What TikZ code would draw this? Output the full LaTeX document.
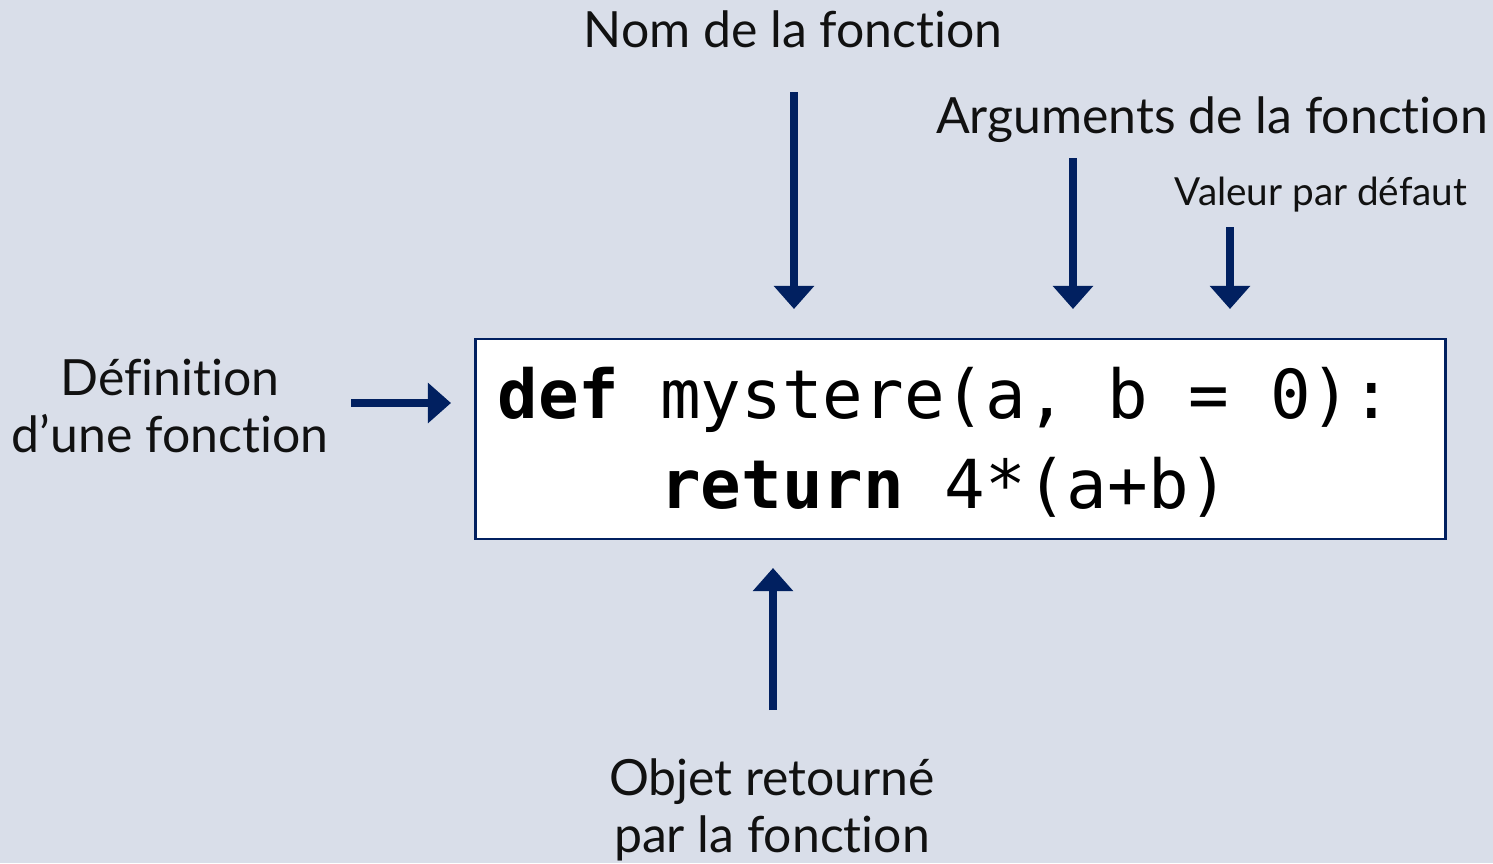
\documentclass[tikz,border=0pt]{standalone}
\usepackage{fontspec}
\setmainfont{Lato}[Ligatures={NoCommon}]
\setmonofont{DejaVu Sans Mono}
\usepackage{xcolor}
\usetikzlibrary{arrows.meta,positioning}
\definecolor{FctBack}{HTML}{D9DEE9}
\definecolor{FctNavy}{HTML}{012060}
\definecolor{FctInk}{HTML}{111111}

\begin{document}
\begin{tikzpicture}[x=0.01cm,y=-0.01cm,
  label/.style={text=FctInk,inner sep=0pt,font=\fontsize{14.2}{16.2}\selectfont},
  smalllabel/.style={label,font=\fontsize{11}{13}\selectfont},
  codeline/.style={text=black,inner sep=0pt,anchor=base west,font=\ttfamily\fontsize{19.2}{25.6}\selectfont},
  pointer/.style={draw=FctNavy,line width=2pt,-{Triangle[length=0.23cm,width=0.39cm]}}]
% background
\fill[FctBack] (0,0) rectangle (1493,863);
\useasboundingbox (0,0) rectangle (1493,863);
% code box
\node[draw=FctNavy,line width=0.7pt,fill=white,minimum width=9.69cm,minimum height=2cm,inner sep=0pt] (box) at (960.5,439) {};
\node[codeline] (line1) at (497,418) {\textbf{def} mystere(a, b = 0):};
\node[codeline] (line2) at (497,508) {\phantom{xxxx}\textbf{return} 4*(a+b)};
% labels
\node[label,anchor=base] (nom) at (793,47) {Nom de la fonction};
\node[label,anchor=base] (args) at (1212,133) {Arguments de la fonction};
\node[smalllabel,anchor=base] (defaut) at (1321,205) {Valeur par défaut};
\node[label,align=center] (defn) at (170,406) {Définition\\d’une fonction};
\node[label,align=center] (objet) at (772,810) {Objet retourné\\par la fonction};
% arrow ends
\coordinate (nomA) at (794,92);   \coordinate (nomB) at (794,309);
\coordinate (argsA) at (1073,158); \coordinate (argsB) at (1073,309);
\coordinate (defautA) at (1230,227); \coordinate (defautB) at (1230,309);
\coordinate (defnA) at (351,403); \coordinate (defnB) at (451,403);
\coordinate (objetA) at (773,710); \coordinate (objetB) at (773,568);
\draw[pointer] (nomA) -- (nomB);
\draw[pointer] (argsA) -- (argsB);
\draw[pointer] (defautA) -- (defautB);
\draw[pointer] (defnA) -- (defnB);
\draw[pointer] (objetA) -- (objetB);
\end{tikzpicture}
\end{document}
